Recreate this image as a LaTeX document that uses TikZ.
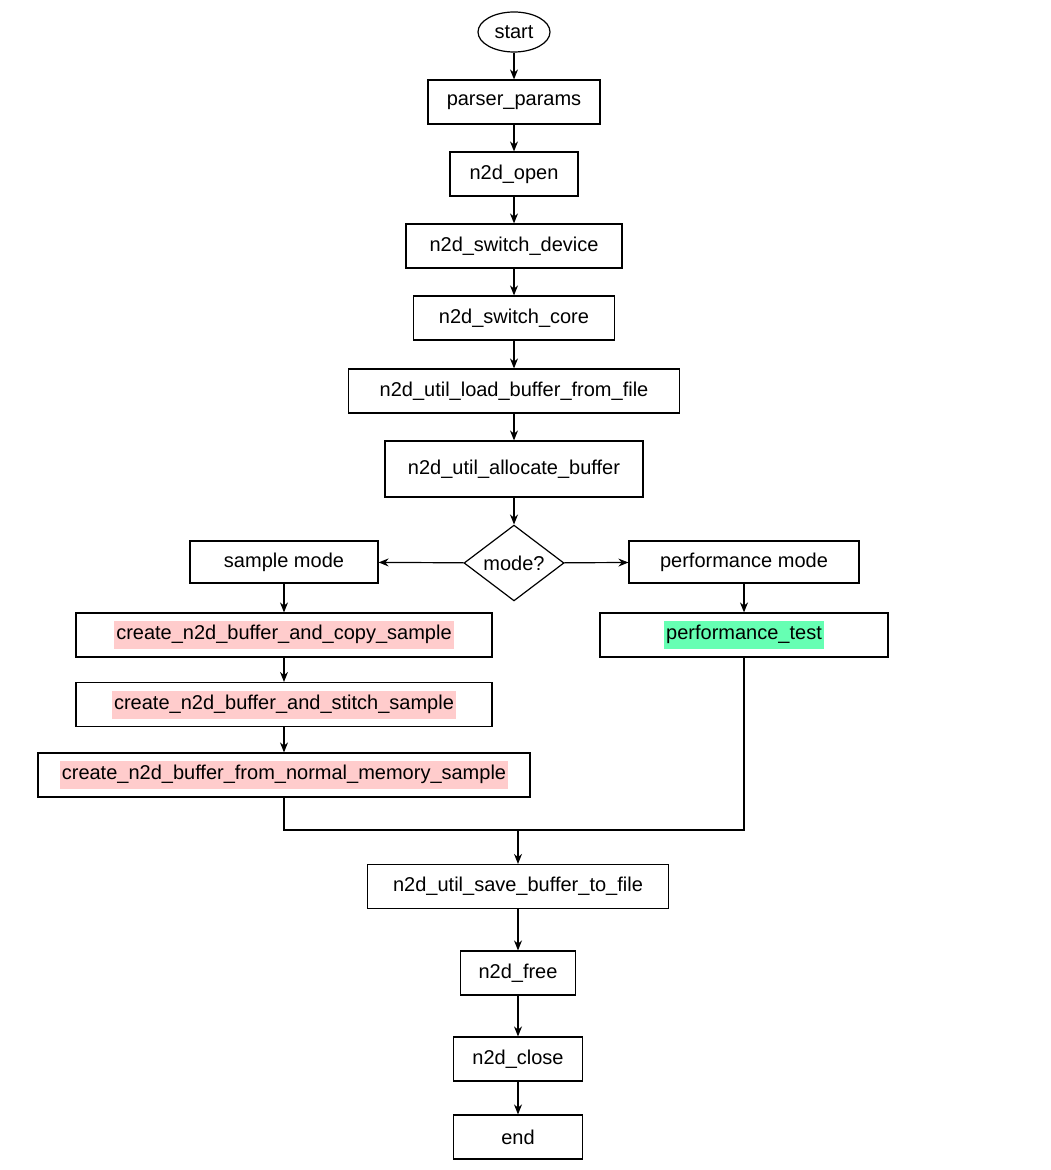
\documentclass[tikz,border=0pt]{standalone}
\usepackage{fontspec}
\setmainfont{Liberation Sans}
\usetikzlibrary{arrows.meta,shapes.geometric}
\definecolor{hlpink}{HTML}{FFCCCC}
\definecolor{hlgreen}{HTML}{66FFB3}
\newcommand{\hl}[2]{{\setlength{\fboxsep}{1pt}\colorbox{#1}{\strut #2}}}
\tikzset{
  box/.style={rectangle,draw,line width=0.6pt,minimum height=22pt,inner sep=2pt},
  arr/.style={-{Stealth[length=5pt,width=4pt]},line width=0.6pt},
  ln/.style={line width=0.6pt}
}
\begin{document}
\begin{tikzpicture}[x=0.5pt,y=-0.5pt,font=\fontsize{10}{12}\selectfont]
\useasboundingbox (0,0) rectangle (1050,1170);
\node (start) at (514,32) [ellipse,draw,line width=0.6pt,minimum width=36pt,minimum height=20pt,inner sep=0pt] {start};
\node (pp) at (514,102) [box,minimum width=86pt] {parser\_params};
\node (open) at (514,174) [box,minimum width=64pt] {n2d\_open};
\node (dev) at (514,246) [box,minimum width=108pt] {n2d\_switch\_device};
\node (core) at (514,318) [box,minimum width=100.5pt] {n2d\_switch\_core};
\node (load) at (514,391) [box,minimum width=165.5pt] {n2d\_util\_load\_buffer\_from\_file};
\node (alloc) at (514,469) [box,minimum width=129pt,minimum height=28pt] {n2d\_util\_allocate\_buffer};
\node (mode) at (514,563) [diamond,draw,line width=0.6pt,minimum width=50pt,minimum height=36pt,inner sep=0pt] {mode?};
\node (sm) at (284,562) [box,minimum width=94pt,minimum height=21pt] {sample mode};
\node (pm) at (744,562) [box,minimum width=115pt,minimum height=21pt] {performance mode};
\node (copy) at (284,635) [box,minimum width=208pt] {\hl{hlpink}{create\_n2d\_buffer\_and\_copy\_sample}};
\node (stitch) at (284,704.5) [box,minimum width=208pt] {\hl{hlpink}{create\_n2d\_buffer\_and\_stitch\_sample}};
\node (normal) at (284,775) [box,minimum width=246pt] {\hl{hlpink}{create\_n2d\_buffer\_from\_normal\_memory\_sample}};
\node (ptest) at (744,635) [box,minimum width=144pt] {\hl{hlgreen}{performance\_test}};
\coordinate (join) at (518,830);
\node (save) at (518,886.5) [box,minimum width=150.5pt] {n2d\_util\_save\_buffer\_to\_file};
\node (free) at (518,973) [box,minimum width=57.5pt] {n2d\_free};
\node (close) at (518,1059) [box,minimum width=64.5pt] {n2d\_close};
\node (end) at (518,1137) [box,minimum width=64.5pt] {end};

\draw [arr] (start) -- (pp);
\draw [arr] (pp) -- (open);
\draw [arr] (open) -- (dev);
\draw [arr] (dev) -- (core);
\draw [arr] (core) -- (load);
\draw [arr] (load) -- (alloc);
\draw [arr] (alloc) -- (mode);
\draw [arr] (mode) -- (sm);
\draw [arr] (mode) -- (pm);
\draw [arr] (sm) -- (copy);
\draw [arr] (copy) -- (stitch);
\draw [arr] (stitch) -- (normal);
\draw [arr] (pm) -- (ptest);
\draw [ln] (normal) |- (join);
\draw [ln] (ptest) |- (join);
\draw [arr] (join) -- (save);
\draw [arr] (save) -- (free);
\draw [arr] (free) -- (close);
\draw [arr] (close) -- (end);
\end{tikzpicture}
\end{document}
